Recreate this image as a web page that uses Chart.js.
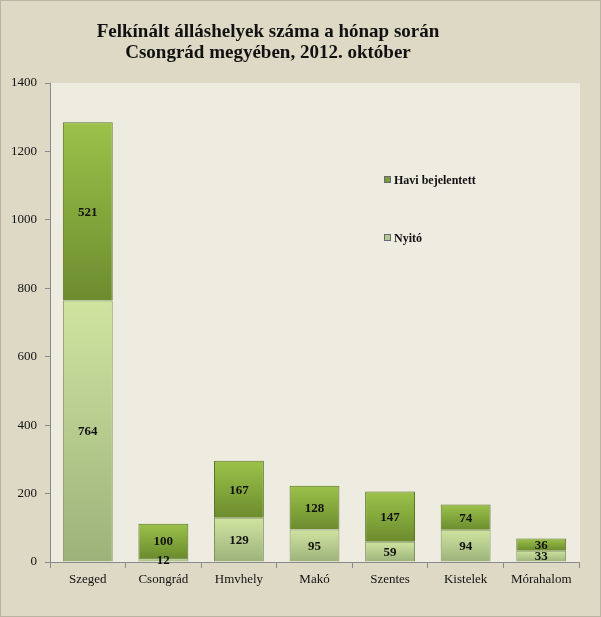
<!DOCTYPE html>
<html>
<head>
<meta charset="utf-8">
<script src="https://cdn.jsdelivr.net/npm/chart.js@4/dist/chart.umd.min.js"></script>
<style>
  body { margin: 0; background: #ded9c5; }
  #wrap { position: relative; width: 601px; height: 617px; background: #ded9c5; box-sizing: border-box; border: 1px solid #b9b4a2; }
  canvas { position: absolute; left: 0; top: 0; }
  #title { position: absolute; left: 47px; width: 440px; top: 19px; text-align: center;
    font: bold 19px "Liberation Serif", "DejaVu Serif", serif; line-height: 21px; color: #111; }
  .leg { position: absolute; font: bold 12px "Liberation Serif", serif; color: #111; }
  .leg i { display: inline-block; width: 7px; height: 7px; margin-right: 3px; vertical-align: 1px; border: 1px solid #667; box-sizing: border-box; }
</style>
</head>
<body>
<div id="wrap">
  <canvas id="c" width="601" height="617"></canvas>
  <div id="title">Felkínált álláshelyek száma a hónap során<br>Csongrád megyében, 2012. október</div>
  <div class="leg" style="left:383px; top:172px;"><i style="background:#7a9c34"></i>Havi bejelentett</div>
  <div class="leg" style="left:383px; top:230px;"><i style="background:#b4c98e"></i>Nyitó</div>
</div>
<script>
// values
const cities = ["Szeged", "Csongrád", "Hmvhely", "Makó", "Szentes", "Kistelek", "Mórahalom"]
const nyito = [764, 12, 129, 95, 59, 94, 33]
const haviBejelentett = [521, 100, 167, 128, 147, 74, 36]
const yTicks = [0, 200, 400, 600, 800, 1000, 1200, 1400]

const serif = "'Liberation Serif', 'DejaVu Serif', serif"

// per-bar vertical gradient, Excel-ish bevel look
function barFill(topCol, bottomCol, below) {
  return ctx => {
    const chart = ctx.chart
    const y = chart.scales.y
    if (!y || ctx.dataIndex === undefined) return bottomCol
    const base = below ? below[ctx.dataIndex] : 0
    const v = ctx.dataset.data[ctx.dataIndex]
    const top = y.getPixelForValue(base + v)
    const bot = y.getPixelForValue(base)
    if (!isFinite(top) || !isFinite(bot) || top === bot) return bottomCol
    const g = chart.ctx.createLinearGradient(0, top, 0, bot)
    g.addColorStop(0, topCol)
    g.addColorStop(1, bottomCol)
    return g
  }
}

const plotBg = {
  id: "plotBg",
  beforeDraw(chart) {
    const { ctx, chartArea: a } = chart
    ctx.save()
    ctx.fillStyle = "#eeebe0"
    ctx.fillRect(a.left, a.top, a.right - a.left + 1, a.bottom - a.top)
    ctx.restore()
  },
}

const valueLabels = {
  id: "valueLabels",
  afterDatasetsDraw(chart) {
    const { ctx } = chart
    ctx.save()
    ctx.font = "bold 13px " + serif
    ctx.fillStyle = "#111"
    ctx.textAlign = "center"
    ctx.textBaseline = "middle"
    chart.data.datasets.forEach((ds, i) => {
      chart.getDatasetMeta(i).data.forEach((bar, j) => {
        const mid = (bar.y + bar.base) / 2
        ctx.fillText(String(ds.data[j]), bar.x, mid + 1)
      })
    })
    ctx.restore()
  },
}

new Chart(document.getElementById("c"), {
  type: "bar",
  data: {
    labels: cities,
    datasets: [
      {
        label: "Nyitó",
        data: nyito,
        backgroundColor: barFill("#d0e4a0", "#9cb27a", null),
        borderColor: "#7f9460",
        borderWidth: 1,
        barPercentage: 0.66,
        categoryPercentage: 1,
      },
      {
        label: "Havi bejelentett",
        data: haviBejelentett,
        backgroundColor: barFill("#9cc24a", "#6c8c2e", nyito),
        borderColor: "#5a7424",
        borderWidth: 1,
        barPercentage: 0.66,
        categoryPercentage: 1,
      },
    ],
  },
  options: {
    responsive: false,
    animation: false,
    layout: { padding: { top: 82, right: 23, left: 0, bottom: 0 } },
    plugins: { legend: { display: false }, title: { display: false }, tooltip: { enabled: false } },
    scales: {
      x: {
        stacked: true,
        afterFit: s => { s.height = 56 },
        border: { color: "#8a8a8a" },
        grid: { display: true, offset: true, drawOnChartArea: false, drawTicks: true, tickLength: 6, color: "#8a8a8a" },
        ticks: { color: "#111", font: { family: serif, size: 13 }, padding: 4 },
      },
      y: {
        stacked: true,
        min: 0,
        max: 1400,
        afterFit: s => { s.width = 49 },
        afterBuildTicks: s => { s.ticks = yTicks.map(v => ({ value: v })) },
        border: { color: "#8a8a8a" },
        grid: { drawOnChartArea: false, drawTicks: true, tickLength: 5, color: "#8a8a8a" },
        ticks: { color: "#111", font: { family: serif, size: 13 }, padding: 8, callback: v => String(v) },
      },
    },
  },
  plugins: [plotBg, valueLabels],
})
</script>
</body>
</html>
